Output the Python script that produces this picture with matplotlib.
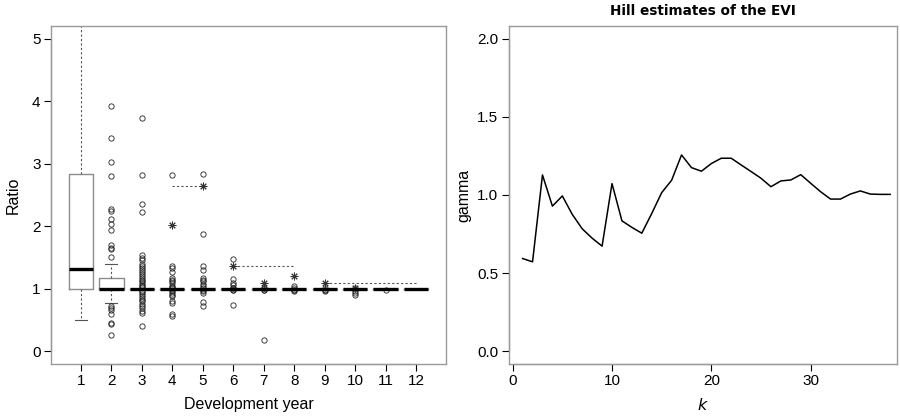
import numpy as np
import matplotlib
matplotlib.use("Agg")
import matplotlib.pyplot as plt

plt.rcParams['font.family'] = ['Liberation Sans', 'DejaVu Sans']

# --- left panel: link ratios by development year ---
years = list(range(1, 13))
med = [1.31, 1.0, 1.0, 1.0, 1.0, 1.0, 1.0, 1.0, 1.0, 1.0, 1.0, 1.0]
q1 = [1.0, 1.0, 1.0, 1.0, 1.0, 1.0, 1.0, 1.0, 1.0, 1.0, 1.0, 1.0]
q3 = [2.83, 1.17, 1.0, 1.0, 1.0, 1.0, 1.0, 1.0, 1.0, 1.0, 1.0, 1.0]
whis_lo = [0.51, 0.77, 1.0, 1.0, 1.0, 1.0, 1.0, 1.0, 1.0, 1.0, 1.0, 1.0]
whis_hi = [5.6, 1.40, 1.0, 1.0, 1.0, 1.0, 1.0, 1.0, 1.0, 1.0, 1.0, 1.0]
outliers = [
    [],
    [3.92, 3.41, 3.03, 2.81, 2.27, 2.24, 2.11, 2.04, 1.94, 1.70, 1.65, 1.63,
     1.51, 0.72, 0.70, 0.67, 0.60, 0.46, 0.44, 0.27],
    [3.73, 2.82, 2.35, 2.23, 1.54, 1.49, 1.46, 1.40, 1.37, 1.34, 1.30, 1.27,
     1.23, 1.20, 1.18, 1.15, 1.12, 1.10, 1.07, 1.05, 1.03, 0.97, 0.95, 0.92,
     0.89, 0.86, 0.83, 0.80, 0.76, 0.72, 0.69, 0.65, 0.61, 0.41],
    [2.82, 1.37, 1.34, 1.27, 1.17, 1.15, 1.12, 1.09, 1.05, 1.03, 1.01, 0.99,
     0.97, 0.94, 0.91, 0.88, 0.81, 0.78, 0.60, 0.56],
    [2.83, 1.87, 1.37, 1.30, 1.18, 1.15, 1.12, 1.08, 1.04, 1.01, 0.98, 0.96,
     0.94, 0.79, 0.73],
    [1.48, 1.16, 1.10, 1.06, 1.02, 1.01, 0.99, 0.98, 0.74],
    [1.02, 1.01, 0.99, 0.98, 0.19],
    [1.05, 1.01, 0.99, 0.98, 0.97],
    [1.01, 0.99, 0.98, 0.97],
    [1.01, 0.97, 0.94, 0.91],
    [0.99],
    [],
]
star_x = [4, 5, 6, 7, 8, 9, 10]
star_y = [2.02, 2.64, 1.37, 1.10, 1.21, 1.09, 1.02]
seg_from = [4, 6, 9]
seg_to = [5, 8, 12]
seg_y = [2.64, 1.37, 1.09]

# --- right panel: Hill estimates ---
k = list(range(1, 39))
gamma = [0.594, 0.573, 1.128, 0.929, 0.994, 0.876, 0.784, 0.724, 0.673, 1.073,
         0.835, 0.793, 0.756, 0.882, 1.015, 1.094, 1.256, 1.175, 1.152, 1.201,
         1.235, 1.235, 1.192, 1.150, 1.107, 1.053, 1.090, 1.096, 1.130, 1.075,
         1.021, 0.974, 0.974, 1.006, 1.026, 1.006, 1.004, 1.004]

frame_col = '#9a9a9a'
box_col = '#8c8c8c'

fig = plt.figure(figsize=(9, 4.16), dpi=100)
ax1 = fig.add_axes([51 / 900, 1 - 364 / 416, 395 / 900, 338 / 416])
ax2 = fig.add_axes([508.7 / 900, 1 - 364 / 416, 388 / 900, 338 / 416])

stats = []
for i in range(len(years)):
    stats.append(dict(med=med[i], q1=q1[i], q3=q3[i], whislo=whis_lo[i],
                      whishi=whis_hi[i], fliers=outliers[i], label=str(years[i])))

ax1.bxp(stats, positions=years, widths=0.8, showfliers=True,
        boxprops=dict(color=box_col, lw=1.0),
        whiskerprops=dict(color='#555555', lw=0.8, linestyle=(0, (2, 2))),
        capprops=dict(color='#555555', lw=0.8),
        capwidths=0.4,
        medianprops=dict(color='black', lw=2.4, solid_capstyle='butt'),
        flierprops=dict(marker='o', mfc='none', mec='#222222', ms=3.8, mew=0.6))

for a, b, y in zip(seg_from, seg_to, seg_y):
    ax1.plot([a, b], [y, y], color='#555555', lw=0.8, linestyle=(0, (2, 2)))
ax1.plot(star_x, star_y, linestyle='none', marker=(8, 2, 0), ms=5.5, mew=0.7,
         color='#333333')

ax1.set_xlim(0.02, 12.98)
ax1.set_ylim(-0.2, 5.2)
ax1.set_xticks(years)
ax1.set_xticklabels([str(y) for y in years])
ax1.set_yticks([0, 1, 2, 3, 4, 5])
ax1.set_xlabel('Development year', fontsize=11.5, labelpad=6.5)
ax1.set_ylabel('Ratio', fontsize=11.5)
ax1.yaxis.set_label_coords(-0.076, 0.5)

ax2.plot(k, gamma, color='black', lw=1.1)
ax2.set_xlim(-0.4, 38.66)
ax2.set_ylim(-0.08, 2.08)
ax2.set_xticks([0, 10, 20, 30])
ax2.set_yticks([0.0, 0.5, 1.0, 1.5, 2.0])
ax2.set_yticklabels(['0.0', '0.5', '1.0', '1.5', '2.0'])
ax2.set_xlabel('$k$', fontsize=11.5, labelpad=6.5)
ax2.set_ylabel('gamma', fontsize=11.5)
ax2.yaxis.set_label_coords(-0.095, 0.5)
ax2.set_title('Hill estimates of the EVI', fontsize=9.8, fontweight='bold',
              family='DejaVu Sans', pad=8)

for ax, xr, yr in [(ax1, (1, 12), (0, 5)), (ax2, (0, 30), (0, 2))]:
    for s in ax.spines.values():
        s.set_color(frame_col)
        s.set_linewidth(1.0)
    ax.tick_params(direction='out', length=5, width=0.8, labelsize=11, pad=2.5,
                   color='black')
    # black axis lines over the grey frame, spanning the tick range
    x0 = ax.get_xlim()[0]
    y0 = ax.get_ylim()[0]
    ax.plot(xr, [y0, y0], color='black', lw=0.8, clip_on=False)
    ax.plot([x0, x0], yr, color='black', lw=0.8, clip_on=False)

fig.savefig('out.png', dpi=100)
